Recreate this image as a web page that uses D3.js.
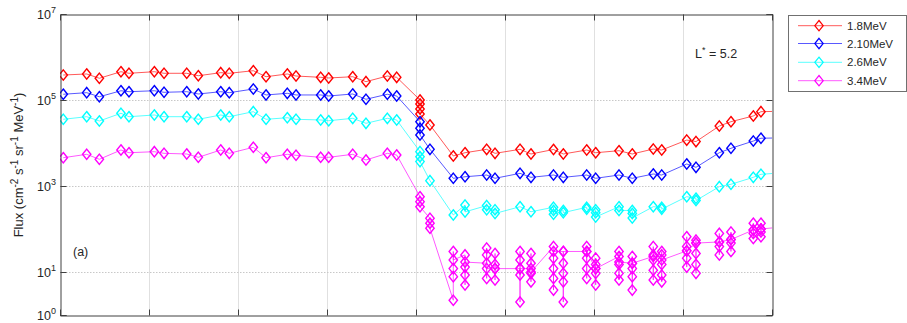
<!DOCTYPE html>
<html>
<head>
<meta charset="utf-8">
<script src="https://cdn.jsdelivr.net/npm/d3@7/dist/d3.min.js"></script>
<style>
  html, body { margin: 0; padding: 0; background: #fff; }
  svg { display: block; font-family: "Liberation Sans", Arial, Helvetica, sans-serif; }
</style>
</head>
<body>
<svg id="chart" width="907" height="323"></svg>
<script>
// Pass times in days from the start of the interval (one entry per visit)
const visitDays = [0.037, 0.300, 0.442, 0.685, 0.775, 1.060, 1.169, 1.424, 1.554, 1.806,
  1.902, 2.172, 2.315, 2.554, 2.652, 2.929, 3.019, 3.289, 3.438, 3.678,
  3.783, 4.045, 4.157, 4.419, 4.551, 4.794, 4.888, 5.169, 5.292, 5.545,
  5.655, 5.918, 6.019, 6.281, 6.430, 6.666, 6.761, 7.042, 7.146, 7.408,
  7.539, 7.790, 7.876, 8.146];

// Flux per visit (several samples when a visit holds more than one measurement)
const flux1_8 = [[381000], [403000], [320000], [455000], [418000], [455000], [418000], [418000], [367000], [432000],
  [418000], [480000], [348000], [403000], [361000], [337000], [325000], [348000], [267000], [361000],
  [337000], [100000, 80700, 61800, 47200], [26200], [4990], [5940], [7130], [5750], [7130], [5550], [7060],
  [5550], [6870], [5940], [6620], [5550], [7240], [6870], [11700], [10800], [24800],
  [31300], [42500], [53500], [55000]];

const flux2_10 = [[136000], [148000], [119000], [164000], [156000], [164000], [151000], [156000], [138000], [156000],
  [148000], [180000], [131000], [143000], [131000], [131000], [124000], [138000], [104000], [136000],
  [124000], [31300, 22000, 15300], [7130], [1510], [1640], [1800], [1510], [1970], [1590], [1800],
  [1590], [1800], [1510], [1800], [1510], [1900], [1800], [3250], [2720], [5940],
  [7530], [11100], [12900], [13200]];

const flux2_6 = [[35600], [40900], [32500], [49100], [40900], [44800], [40900], [40900], [35600], [44800],
  [40900], [53500], [35600], [38700], [35600], [34300], [33000], [37500], [28700], [37500],
  [34300], [6300, 4800, 3700], [1330], [212], [360, 250], [350, 280], [280, 230], [330], [252], [320, 270, 220],
  [270, 240], [320, 290], [280, 240, 190], [330, 270], [270, 230, 180], [330], [320, 290], [564], [520, 460], [964],
  [1096], [1592], [1871], [2050]];

const flux3_4 = [[4550], [5460], [4180], [6870], [5940], [6280], [5750], [5550], [4650], [6870],
  [5750], [7940], [4550], [5460], [5180], [4650], [4650], [5460], [4030], [5750],
  [5260], [564, 432, 330], [177, 136, 104], [2.2, 7.8, 12, 30, 19], [25, 13, 8.5, 5.0, 17],
  [16, 36, 25, 7.1, 12], [12, 27, 15, 6.5, 12], [12, 30, 19, 8.5, 2.0, 12], [12, 27, 16, 9.3, 5.9, 10],
  [39, 21, 12, 7.1, 3.8, 30], [30, 16, 9.3, 5.9, 2.0, 30], [30, 39, 21, 12, 7.1, 30],
  [12, 21, 15, 9.3, 5.0, 12], [23, 30, 15, 9.3, 6.5, 17], [16, 23, 12, 7.8, 3.8, 16],
  [23, 39, 19, 11, 6.5, 25], [25, 30, 15, 8.5, 5.9, 19], [31, 66, 39, 21, 13, 31],
  [47, 55, 27, 15, 9.3, 47], [50, 79, 39, 25, 50], [57, 85, 47, 30, 57],
  [95, 136, 79, 60, 95], [100, 136, 85, 66, 100], [113]];

const seriesNames = ["1.8MeV", "2.10MeV", "2.6MeV", "3.4MeV"];
const seriesColors = ["#ff0000", "#0000ff", "#00ffff", "#ff00ff"];
const seriesFlux = [flux1_8, flux2_10, flux2_6, flux3_4];

const yTickValues = [1, 10, 1e3, 1e5, 1e7];
const yTickExponents = ["0", "1", "3", "5", "7"];
const xTickValues = [1, 2, 3, 4, 5, 6, 7];
const annotation = { lstar: "5.2", panel: "(a)" };

const svg = d3.select("#chart");
const x = d3.scaleLinear().domain([0, 8]).range([60, 772]);
const y = d3.scaleLog().domain([1, 1e7]).range([315, 14]);

const [px0, px1] = x.range();
const [py1, py0] = y.range();

svg.append("defs").append("clipPath").attr("id", "plotClip")
  .append("rect").attr("x", px0).attr("y", py0).attr("width", px1 - px0).attr("height", py1 - py0);

// grid
const grid = svg.append("g");
grid.selectAll("line.vg").data(xTickValues).join("line")
  .attr("x1", d => Math.round(x(d)) + 0.5).attr("x2", d => Math.round(x(d)) + 0.5)
  .attr("y1", py0).attr("y2", py1)
  .attr("stroke", "#e0e0e0").attr("stroke-width", 1);
grid.selectAll("line.hg").data(yTickValues.slice(1, -1)).join("line")
  .attr("x1", px0).attr("x2", px1)
  .attr("y1", d => Math.round(y(d)) + 0.5).attr("y2", d => Math.round(y(d)) + 0.5)
  .attr("stroke", "#c8c8c8").attr("stroke-width", 1).attr("stroke-dasharray", "1.5,1.5");

// data
const diamond = "M0,-5.2L4.2,0L0,5.2L-4.2,0Z";
const plot = svg.append("g").attr("clip-path", "url(#plotClip)");
seriesFlux.forEach((visits, i) => {
  const pts = [];
  visits.forEach((vals, k) => vals.forEach(v => pts.push({ t: visitDays[k], v })));
  const line = d3.line().x(d => x(d.t)).y(d => y(d.v));
  const g = plot.append("g");
  g.append("path").attr("d", line(pts)).attr("fill", "none")
    .attr("stroke", seriesColors[i]).attr("stroke-width", 1).attr("stroke-opacity", 0.65);
  g.selectAll("path.m").data(pts).join("path")
    .attr("d", diamond)
    .attr("transform", d => `translate(${x(d.t)},${y(d.v)})`)
    .attr("fill", "none").attr("stroke", seriesColors[i]).attr("stroke-width", 1.4);
});

// axes box and ticks
const axisColor = "#404040";
const yAxisL = d3.axisLeft(y).tickValues(yTickValues).tickSize(-6).tickFormat("");
const yAxisR = d3.axisRight(y).tickValues(yTickValues).tickSize(-6).tickFormat("");
const xAxisB = d3.axisBottom(x).tickValues(xTickValues).tickSize(-6).tickFormat("");
const xAxisT = d3.axisTop(x).tickValues(xTickValues).tickSize(-6).tickFormat("");
[[yAxisL, `translate(${px0 + 0.5},0)`], [yAxisR, `translate(${px1 + 0.5},0)`],
 [xAxisB, `translate(0,${py1 + 0.5})`], [xAxisT, `translate(0,${py0 + 0.5})`]].forEach(([ax, tr]) => {
  const g = svg.append("g").attr("transform", tr).call(ax);
  g.select(".domain").attr("stroke", axisColor);
  g.selectAll(".tick line").attr("stroke", axisColor);
});

// y tick labels with superscript exponents
const yl = svg.append("g").attr("fill", "#262626").attr("font-size", 12.5);
yTickValues.forEach((v, i) => {
  const t = yl.append("text").attr("x", 56).attr("y", y(v) + 4.5).attr("text-anchor", "end");
  t.append("tspan").text("10");
  t.append("tspan").attr("font-size", 9).attr("dy", -6).text(yTickExponents[i]);
});

// y axis title
const yt = svg.append("text").attr("transform", "translate(23,165) rotate(-90)")
  .attr("text-anchor", "middle").attr("font-size", 13).attr("fill", "#262626");
yt.append("tspan").text("Flux (cm");
yt.append("tspan").attr("font-size", 10).attr("dy", -5).text("-2");
yt.append("tspan").attr("dy", 5).text(" s");
yt.append("tspan").attr("font-size", 10).attr("dy", -5).text("-1");
yt.append("tspan").attr("dy", 5).text(" sr");
yt.append("tspan").attr("font-size", 10).attr("dy", -5).text("-1");
yt.append("tspan").attr("dy", 5).text(" MeV");
yt.append("tspan").attr("font-size", 10).attr("dy", -5).text("-1");
yt.append("tspan").attr("dy", 5).text(")");

// annotations
const ls = svg.append("text").attr("x", 695).attr("y", 58).attr("font-size", 12.5).attr("fill", "#262626");
ls.append("tspan").text("L");
ls.append("tspan").attr("font-size", 9).attr("dy", -5).text("*");
ls.append("tspan").attr("dy", 5).text(" = " + annotation.lstar);
svg.append("text").attr("x", 73).attr("y", 256).attr("font-size", 12.5).attr("fill", "#262626").text(annotation.panel);

// legend
const lg = svg.append("g");
lg.append("rect").attr("x", 788.5).attr("y", 15.5).attr("width", 118).attr("height", 76)
  .attr("fill", "#fff").attr("stroke", "#707070").attr("stroke-width", 1);
const legY = [25.7, 43.5, 62.3, 80.7];
seriesNames.forEach((name, i) => {
  const ly = legY[i];
  lg.append("line").attr("x1", 798).attr("x2", 842).attr("y1", ly).attr("y2", ly)
    .attr("stroke", seriesColors[i]).attr("stroke-width", 1).attr("stroke-opacity", 0.65);
  lg.append("path").attr("d", diamond).attr("transform", `translate(819,${ly})`)
    .attr("fill", "none").attr("stroke", seriesColors[i]).attr("stroke-width", 1.2);
  lg.append("text").attr("x", 847).attr("y", ly + 4).attr("font-size", 11.5).attr("fill", "#262626").text(name);
});
</script>
</body>
</html>
